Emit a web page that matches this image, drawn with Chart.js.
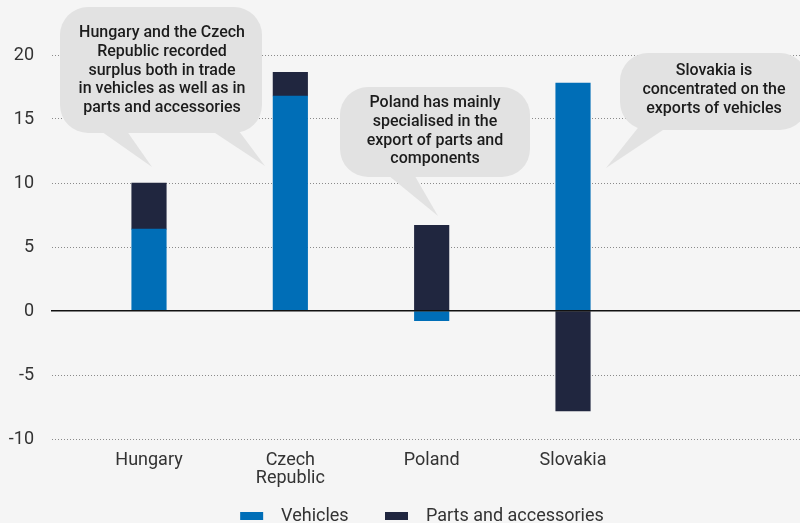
<!DOCTYPE html>
<html>
<head>
<meta charset="utf-8">
<script src="https://cdn.jsdelivr.net/npm/chart.js@4"></script>
<style>
  html, body { margin: 0; padding: 0; background: #f5f5f5; overflow: hidden; }
  #wrap { width: 800px; height: 535px; position: relative; }
</style>
</head>
<body>
<div id="wrap"><canvas id="trade"></canvas></div>
<script>
// Automotive trade balance by country, vehicles vs parts
const countries = [['Hungary'], ['Czech', 'Republic'], ['Poland'], ['Slovakia']]
const vehicles = [6.4, 16.8, -0.75, 17.8]
const parts = [3.6, 1.85, 6.7, -7.8]
const yMin = -10
const yMax = 20
const yStep = 5

const noteHuCz = ['Hungary and the Czech', 'Republic recorded', 'surplus both in trade', 'in vehicles as well as in', 'parts and accessories']
const notePl = ['Poland has mainly', 'specialised in the', 'export of parts and', 'components']
const noteSk = ['Slovakia is', 'concentrated on the', 'exports of vehicles']

const BLUE = '#006eb7'
const NAVY = '#20263f'
const TEXT = '#333333'

// speech bubbles on top of the plot
const bubbles = [
  { box: [60, 7, 262, 133], tails: [[95, 124, 152, 167], [206, 236, 265, 166]], lines: noteHuCz, cx: 162, y0: 33 },
  { box: [340, 87, 530, 177], tails: [[383, 412, 438, 216]], lines: notePl, cx: 435, y0: 103 },
  { box: [620, 53, 808, 130], tails: [[641, 672, 606, 168]], lines: noteSk, cx: 714, y0: 71 }
]

const bubblePlugin = {
  id: 'bubbles',
  afterDraw (chart) {
    const ctx = chart.ctx
    ctx.save()
    bubbles.forEach(b => {
      const [x1, y1, x2, y2] = b.box
      ctx.fillStyle = '#e2e2e2'
      ctx.beginPath()
      ctx.roundRect(x1, y1, x2 - x1, y2 - y1, 28)
      ctx.fill()
      b.tails.forEach(t => {
        ctx.beginPath()
        ctx.moveTo(t[0], y2 - 6)
        ctx.lineTo(t[1], y2 - 6)
        ctx.lineTo(t[2], t[3])
        ctx.closePath()
        ctx.fill()
      })
      ctx.fillStyle = '#1c1c1c'
      ctx.font = '500 16px Roboto'
      ctx.textAlign = 'center'
      ctx.textBaseline = 'middle'
      b.lines.forEach((line, i) => ctx.fillText(line, b.cx, b.y0 + i * 18.8))
    })
    ctx.restore()
  }
}

Chart.defaults.font.family = 'Roboto'

const ctx = document.getElementById('trade')

new Chart(ctx, {
  type: 'bar',
  data: {
    datasets: [{
      label: 'Vehicles',
      data: vehicles.map((v, i) => ({ x: i + 1, y: v })),
      backgroundColor: BLUE,
      borderWidth: 0
    }, {
      label: 'Parts and accessories',
      data: parts.map((v, i) => ({ x: i + 1, y: v })),
      backgroundColor: NAVY,
      borderWidth: 0
    }]
  },
  options: {
    responsive: true,
    maintainAspectRatio: false,
    animation: false,
    barThickness: 34.5,
    layout: { padding: { top: 55, left: 0, right: -44, bottom: 0 } },
    plugins: {
      tooltip: { enabled: false },
      legend: {
        position: 'bottom',
        labels: {
          boxWidth: 23,
          boxHeight: 8,
          padding: 18,
          color: TEXT,
          font: { size: 18 },
          // extra spacing: box-to-text gap and gap between the two items
          generateLabels: chart => Chart.defaults.plugins.legend.labels.generateLabels(chart)
            .map((l, i) => ({ ...l, text: '  ' + l.text + (i === 0 ? '\u2002\u2002' : '') }))
        }
      }
    },
    scales: {
      x: {
        type: 'linear',
        offset: false,
        stacked: true,
        min: 0.3137,
        max: 5.606,
        grid: { display: false, drawTicks: false },
        border: { display: false },
        afterBuildTicks: s => { s.ticks = countries.map((c, i) => ({ value: i + 1 })) },
        afterFit: s => { s.height = 50 },
        ticks: {
          padding: 12,
          color: TEXT,
          font: { size: 18, lineHeight: 1 },
          maxRotation: 0,
          autoSkip: false,
          callback: v => countries[v - 1]
        }
      },
      zero: {
        type: 'linear',
        axis: 'x',
        position: { y: 0 },
        min: 0,
        max: 1,
        ticks: { display: false },
        grid: { display: false, drawTicks: false },
        border: { display: true, color: '#111111', width: 1.5, z: 1 }
      },
      y: {
        stacked: true,
        min: yMin,
        max: yMax,
        afterFit: s => { s.width = 52 },
        ticks: { stepSize: yStep, padding: 18, color: TEXT, font: { size: 18 } },
        grid: {
          drawTicks: false,
          color: c => c.tick && c.tick.value === 0 ? 'transparent' : '#8a8a8a',
          lineWidth: 1
        },
        border: { display: false, dash: [1, 2] }
      }
    }
  },
  plugins: [bubblePlugin]
})
</script>
</body>
</html>
